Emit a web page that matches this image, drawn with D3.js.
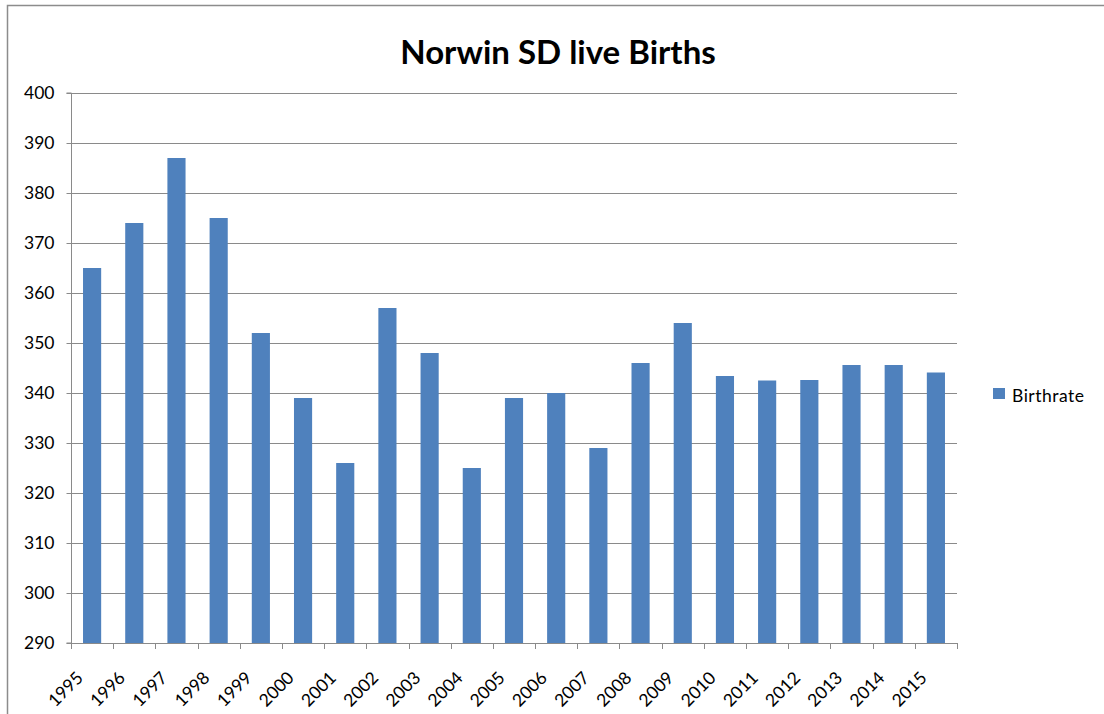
<!DOCTYPE html>
<html>
<head>
<meta charset="utf-8">
<script src="https://cdn.jsdelivr.net/npm/d3@7"></script>
<style>
  body { margin: 0; background: #fff; }
  svg { display: block; font-family: Lato, "Open Sans", sans-serif; }
</style>
</head>
<body>
<svg id="chart" width="1104" height="714"></svg>
<script>
const years = ["1995", "1996", "1997", "1998", "1999", "2000", "2001", "2002", "2003", "2004", "2005",
  "2006", "2007", "2008", "2009", "2010", "2011", "2012", "2013", "2014", "2015"]
const births = [365, 374, 387, 375, 352, 339, 326, 357, 348, 325, 339,
  340, 329, 346, 354, 343.4, 342.5, 342.6, 345.6, 345.6, 344.1]
const yTicks = [290, 300, 310, 320, 330, 340, 350, 360, 370, 380, 390, 400]
const seriesName = "Birthrate"
const title = "Norwin SD live Births"

const svg = d3.select("#chart")
const plotLeft = 71, plotRight = 957, plotTop = 93, plotBottom = 643

// chart area border (runs off the picture on the right and bottom)
svg.append("rect")
  .attr("x", 7.5).attr("y", 5.5)
  .attr("width", 1200).attr("height", 800)
  .attr("fill", "none").attr("stroke", "#8c8c8c").attr("stroke-width", 1.5)

const x = d3.scaleBand()
  .domain(years)
  .range([plotLeft, plotRight])
  .paddingInner(0.57)
  .paddingOuter(0.285)

const y = d3.scaleLinear()
  .domain([290, 400])
  .range([plotBottom, plotTop])

// gridlines
svg.append("g")
  .selectAll("line")
  .data(yTicks)
  .enter().append("line")
  .attr("x1", plotLeft).attr("x2", plotRight)
  .attr("y1", d => Math.round(y(d)) + 0.5).attr("y2", d => Math.round(y(d)) + 0.5)
  .attr("stroke", "#8a8a8a").attr("stroke-width", 1)

// bars
svg.append("g")
  .selectAll("rect")
  .data(years)
  .enter().append("rect")
  .attr("x", d => x(d))
  .attr("width", x.bandwidth())
  .attr("y", (d, i) => y(births[i]))
  .attr("height", (d, i) => y(290) - y(births[i]))
  .attr("fill", "#4f81bd")

// y axis
const yAxis = svg.append("g")
  .attr("transform", "translate(" + (plotLeft + 0.5) + ",0)")
  .call(d3.axisLeft(y).tickValues(yTicks).tickSize(5).tickPadding(12).tickFormat(d3.format("d")))
yAxis.select(".domain").attr("stroke", "#8a8a8a").attr("d", "M-5," + plotTop + "H0V" + plotBottom + "H-5")
yAxis.selectAll(".tick line").attr("stroke", "#8a8a8a")
yAxis.selectAll(".tick text")
  .attr("font-family", "Lato, sans-serif")
  .attr("font-size", 17.5)
  .attr("fill", "#000")

// x axis: ticks at category boundaries
const step = x.step()
const xg = svg.append("g")
xg.append("line")
  .attr("x1", plotLeft).attr("x2", plotRight)
  .attr("y1", plotBottom + 0.5).attr("y2", plotBottom + 0.5)
  .attr("stroke", "#8a8a8a")
xg.selectAll("line.tick")
  .data(d3.range(years.length + 1))
  .enter().append("line")
  .attr("class", "tick")
  .attr("x1", i => Math.round(plotLeft + i * step) + 0.5).attr("x2", i => Math.round(plotLeft + i * step) + 0.5)
  .attr("y1", plotBottom).attr("y2", plotBottom + 6)
  .attr("stroke", "#8a8a8a")
xg.selectAll("text")
  .data(years)
  .enter().append("text")
  .attr("transform", d => "translate(" + (x(d) + x.bandwidth() / 2 - 8) + "," + (plotBottom + 36) + ") rotate(-45)")
  .attr("text-anchor", "end")
  .attr("font-size", 17.5)
  .attr("fill", "#000")
  .text(d => d)

// title
svg.append("text")
  .attr("x", 558).attr("y", 64)
  .attr("text-anchor", "middle")
  .attr("font-size", 33)
  .attr("font-weight", "bold")
  .attr("fill", "#000")
  .text(title)

// legend
const legend = svg.append("g").attr("transform", "translate(993,388)")
legend.append("rect").attr("width", 12).attr("height", 11).attr("fill", "#4f81bd")
legend.append("text")
  .attr("x", 19).attr("y", 14)
  .attr("font-size", 17.5)
  .attr("letter-spacing", 0.5)
  .attr("fill", "#000")
  .text(seriesName)
</script>
</body>
</html>
